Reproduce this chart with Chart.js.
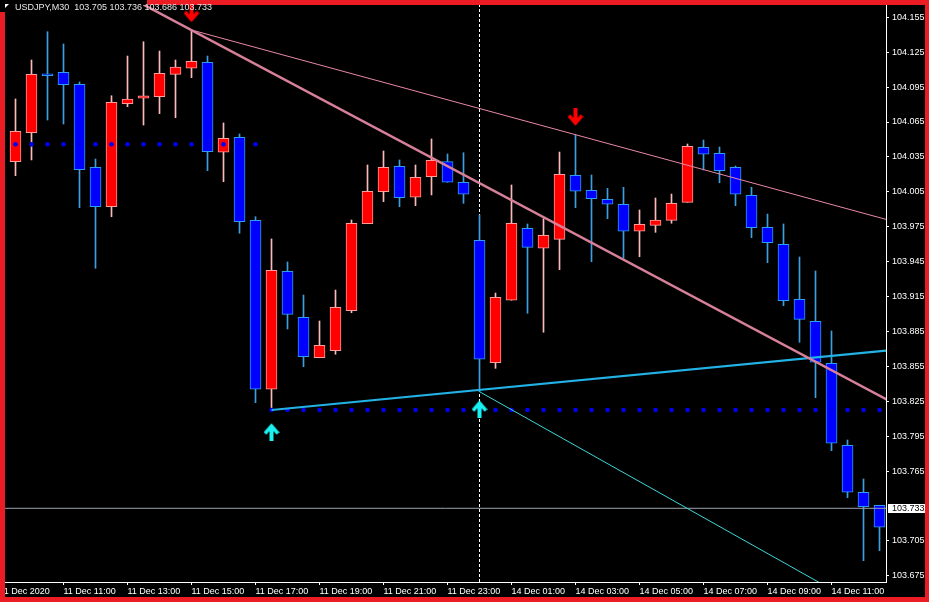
<!DOCTYPE html>
<html lang="en">
<head>
  <meta charset="UTF-8" />
  <title>USDJPY,M30</title>
  <script src="https://cdn.jsdelivr.net/npm/chart.js"></script>
  <style>
    html, body { margin: 0; padding: 0; background: #000; overflow: hidden; }
    #wrap { position: relative; width: 929px; height: 602px; }
  </style>
</head>
<body>
  <div id="wrap"><canvas id="mt4" width="929" height="602"></canvas></div>

  <script>
    // candle index 0 = 11 Dec 09:00 (M30 bars, weekend gap after index 29)
    const firstIdx = 1;
    const opens  = [104.0309,104.0558,104.1063,104.1077,104.0974,104.0261,103.9922,104.0807,104.0854,104.0868,
                    104.1060,104.1112,104.1163,104.0390,104.0519,103.9805,103.8353,103.9367,103.8972,103.8624,
                    103.8685,103.9028,103.9776,104.0051,104.0269,104.0003,104.0180,104.0309,104.0132,103.9633,
                    103.8581,103.9118,103.9737,103.9565,103.9642,104.0192,104.0063,103.9986,103.9943,103.9711,
                    103.9762,103.9805,103.9960,104.0433,104.0381,104.0261,104.0020,103.9745,103.9599,103.9126,
                    103.8937,103.8576,103.7871,103.7468,103.7356];
    const highs  = [104.0848,104.1183,104.1426,104.1321,104.0994,104.0332,104.0876,104.1217,104.1340,104.1260,
                    104.1183,104.1441,104.1217,104.0642,104.0547,103.9836,103.9645,103.9447,103.9163,103.8940,
                    103.9206,103.9808,104.0281,104.0401,104.0324,104.0281,104.0504,104.0375,104.0386,103.9851,
                    103.9180,104.0109,103.9774,103.9819,104.0392,104.0541,104.0195,104.0080,104.0089,103.9894,
                    103.9997,104.0031,104.0461,104.0495,104.0435,104.0272,104.0089,103.9859,103.9774,103.9490,
                    103.9370,103.8854,103.7917,103.7582,103.7356];
    const lows   = [104.0189,104.0324,104.0667,104.0633,103.9914,103.9393,103.9836,104.0782,104.0624,104.0722,
                    104.0687,104.1031,104.0232,104.0137,103.9694,103.8238,103.8175,103.8871,103.8547,103.8624,
                    103.8654,103.9011,103.9776,103.9965,103.9922,103.9931,104.0023,104.0132,103.9951,103.8332,
                    103.8533,103.9118,103.9006,103.8843,103.9381,103.9914,103.9449,103.9819,103.9479,103.9492,
                    103.9702,103.9780,103.9960,104.0238,104.0128,103.9931,103.9656,103.9441,103.9071,103.8757,
                    103.8281,103.7825,103.7421,103.6880,103.6966];
    const closes = [104.0570,104.1060,104.1048,104.0971,104.0240,103.9922,104.0819,104.0848,104.0874,104.1069,
                    104.1123,104.1172,104.0395,104.0510,103.9793,103.8353,103.9376,103.8997,103.8633,103.8731,
                    103.9058,103.9780,104.0055,104.0261,103.9999,104.0175,104.0321,104.0132,104.0029,103.8611,
                    103.9144,103.9780,103.9573,103.9676,104.0201,104.0055,103.9991,103.9943,103.9711,103.9771,
                    103.9808,103.9951,104.0441,104.0373,104.0232,104.0029,103.9742,103.9613,103.9114,103.8954,
                    103.8585,103.7889,103.7468,103.7344,103.7167];

    const timeTickIdx = [0, 4, 8, 12, 16, 20, 24, 28, 32, 36, 40, 44, 48, 52];
    const timeLabels  = ['11 Dec 2020', '11 Dec 11:00', '11 Dec 13:00', '11 Dec 15:00', '11 Dec 17:00',
                         '11 Dec 19:00', '11 Dec 21:00', '11 Dec 23:00', '14 Dec 01:00', '14 Dec 03:00',
                         '14 Dec 05:00', '14 Dec 07:00', '14 Dec 09:00', '14 Dec 11:00'];
    const priceTicks  = [103.675, 103.705, 103.765, 103.795, 103.825, 103.855, 103.885, 103.915, 103.945,
                         103.975, 104.005, 104.035, 104.065, 104.095, 104.125, 104.155];

    // indicator levels (dotted) : [level, from index, to index]
    const upperLevel = [104.0458, 1, 16];
    const lowerLevel = [103.8175, 17, 55];

    // trend lines, [index, price] pairs
    const trendMain  = [[9.0, 104.1659], [56, 103.8225]];
    const trendUpper = [[12, 104.1441], [56, 103.9791]];
    const trendSup   = [[17, 103.8175], [56, 103.8693]];
    const trendDown  = [[30, 103.8332], [52, 103.6633]];

    const arrowsDown = [[12, 104.1583], [36, 104.0693]];
    const arrowsUp   = [[17, 103.7986], [30, 103.8183]];

    const markerIdx = 30;
    const bidPrice  = 103.733;
    const titleText = 'USDJPY,M30  103.705 103.736 103.686 103.733';

    const xMin = 0.34375, xMax = 55.40625;
    const yMin = 103.66966, yMax = 104.16557;
    const FONT = '"Liberation Sans", Arial, sans-serif';

    const idx = opens.map((_, i) => firstIdx + i);
    const isUp = opens.map((o, i) => closes[i] >= o);

    const bodies = idx.map((x, i) => ({ x: x, y: [opens[i], closes[i]] }));
    const wicks  = idx.map((x, i) => ({ x: x, y: [lows[i], highs[i]] }));

    function levelPoints(lv) {
      const pts = [];
      for (let x = lv[1]; x <= lv[2]; x++) pts.push({ x: x, y: lv[0] });
      return pts;
    }
    const toPts = arr => arr.map(p => ({ x: p[0], y: p[1] }));

    function makeArrow(color, up) {
      const c = document.createElement('canvas');
      c.width = 16; c.height = 18;
      const g = c.getContext('2d');
      if (up) { g.translate(0, 18); g.scale(1, -1); }
      g.strokeStyle = color;
      g.fillStyle = color;
      g.fillRect(6, 0, 4, 15);
      g.lineWidth = 3.5;
      g.beginPath();
      g.moveTo(1.5, 7.5);
      g.lineTo(8, 15);
      g.lineTo(14.5, 7.5);
      g.stroke();
      return c;
    }

    // no label padding: the plot area must sit exactly where MT4 puts it
    function noPad(s) {
      s.paddingLeft = 0; s.paddingRight = 0; s.paddingTop = 0; s.paddingBottom = 0;
    }

    const mt4Frame = {
      id: 'mt4Frame',
      beforeDraw(chart) {
        const ctx = chart.ctx;
        ctx.save();
        ctx.fillStyle = '#000000';
        ctx.fillRect(0, 0, chart.width, chart.height);
        ctx.restore();
      },
      afterDraw(chart) {
        const ctx = chart.ctx;
        const area = chart.chartArea;
        const py = chart.scales.y.getPixelForValue(bidPrice);
        ctx.save();
        // current price tag
        ctx.fillStyle = '#ffffff';
        ctx.fillRect(area.right + 2, Math.round(py) - 4, 40, 9);
        ctx.fillStyle = '#000000';
        ctx.font = '9px ' + FONT;
        ctx.textBaseline = 'middle';
        ctx.fillText(bidPrice.toFixed(3), area.right + 6, Math.round(py) + 0.5);
        // red frame
        ctx.fillStyle = '#ec1c24';
        ctx.fillRect(147, 0, chart.width - 147, 5);
        ctx.fillRect(0, 12, 5, chart.height - 12);
        ctx.fillRect(chart.width - 4, 0, 4, chart.height);
        ctx.fillRect(0, chart.height - 5, chart.width, 5);
        // title
        ctx.fillStyle = '#ffffff';
        ctx.beginPath();
        ctx.moveTo(5, 4); ctx.lineTo(9, 4); ctx.lineTo(5, 8);
        ctx.fill();
        ctx.fillStyle = '#e6e6e6';
        ctx.textBaseline = 'alphabetic';
        ctx.fillText(titleText, 15, 10);
        ctx.restore();
      }
    };

    const ctx = document.getElementById('mt4').getContext('2d');
    new Chart(ctx, {
      type: 'bar',
      data: {
        datasets: [
          {
            type: 'line', label: 'marker', data: [{ x: markerIdx, y: yMin }, { x: markerIdx, y: yMax }], order: 12,
            borderColor: '#ffffff', borderWidth: 1, borderDash: [3, 2], pointRadius: 0, clip: 0
          },
          {
            type: 'bar', label: 'wick', data: wicks, grouped: false, order: 10,
            barThickness: 1, borderWidth: 0,
            backgroundColor: isUp.map(u => u ? '#ffb8b8' : '#3c9fe0')
          },
          {
            type: 'bar', label: 'body', data: bodies, grouped: false, order: 9,
            barThickness: 11, borderWidth: 1, borderSkipped: false, minBarLength: 2,
            backgroundColor: isUp.map(u => u ? '#ff0000' : '#0000ff'),
            borderColor: isUp.map(u => u ? '#ff9c9c' : '#2e9cf2')
          },
          {
            type: 'scatter', label: 'upper level', data: levelPoints(upperLevel), order: 5,
            pointRadius: 2.3, pointBackgroundColor: '#0000f2', pointBorderWidth: 0
          },
          {
            type: 'scatter', label: 'lower level', data: levelPoints(lowerLevel), order: 5,
            pointRadius: 2.3, pointBackgroundColor: '#0000f2', pointBorderWidth: 0
          },
          {
            type: 'line', label: 'bid', data: [{ x: xMin, y: bidPrice }, { x: xMax, y: bidPrice }], order: 4,
            borderColor: '#9aa3ad', borderWidth: 1, pointRadius: 0, clip: 0
          },
          {
            type: 'line', label: 'trend main', data: toPts(trendMain), order: 3,
            borderColor: '#d8809a', borderWidth: 2.4, pointRadius: 0, clip: 0
          },
          {
            type: 'line', label: 'trend upper', data: toPts(trendUpper), order: 3,
            borderColor: '#e889a4', borderWidth: 1, pointRadius: 0, clip: 0
          },
          {
            type: 'line', label: 'trend support', data: toPts(trendSup), order: 3,
            borderColor: '#22b2e6', borderWidth: 2.2, pointRadius: 0, clip: 0
          },
          {
            type: 'line', label: 'trend down', data: toPts(trendDown), order: 3,
            borderColor: '#3fd6d6', borderWidth: 1, pointRadius: 0, clip: 0
          },
          {
            type: 'scatter', label: 'sell', data: toPts(arrowsDown), order: 1,
            pointStyle: makeArrow('#ff0000', false), pointRadius: 9
          },
          {
            type: 'scatter', label: 'buy', data: toPts(arrowsUp), order: 1,
            pointStyle: makeArrow('#19f0f0', true), pointRadius: 9
          }
        ]
      },
      options: {
        responsive: false,
        animation: false,
        devicePixelRatio: 1,
        events: [],
        layout: { autoPadding: false, padding: { left: 5, top: 5, right: 0, bottom: 0 } },
        plugins: {
          legend: { display: false },
          tooltip: { enabled: false }
        },
        scales: {
          x: {
            type: 'linear',
            position: 'bottom',
            min: xMin,
            max: xMax,
            offset: false,
            afterFit: s => { s.height = 20; noPad(s); },
            afterBuildTicks: s => { s.ticks = timeTickIdx.map(v => ({ value: v })); },
            grid: { offset: false, drawOnChartArea: false, drawTicks: true, tickLength: 3, color: '#ffffff', lineWidth: 1 },
            border: { display: true, color: '#ffffff', width: 1 },
            ticks: {
              autoSkip: false, maxRotation: 0, minRotation: 0, align: 'start', padding: 1,
              color: '#ffffff', font: { family: FONT, size: 9 },
              callback: (v, i) => timeLabels[i]
            }
          },
          y: {
            type: 'linear',
            position: 'right',
            min: yMin,
            max: yMax,
            beginAtZero: false,
            afterFit: s => { s.width = 43; noPad(s); },
            afterBuildTicks: s => { s.ticks = priceTicks.map(v => ({ value: v })); },
            grid: { drawOnChartArea: false, drawTicks: true, tickLength: 3, color: '#ffffff', lineWidth: 1 },
            border: { display: true, color: '#ffffff', width: 1 },
            ticks: {
              padding: 3, color: '#ffffff', font: { family: FONT, size: 9 },
              callback: v => Number(v).toFixed(3)
            }
          }
        }
      },
      plugins: [mt4Frame]
    });
  </script>
</body>
</html>
